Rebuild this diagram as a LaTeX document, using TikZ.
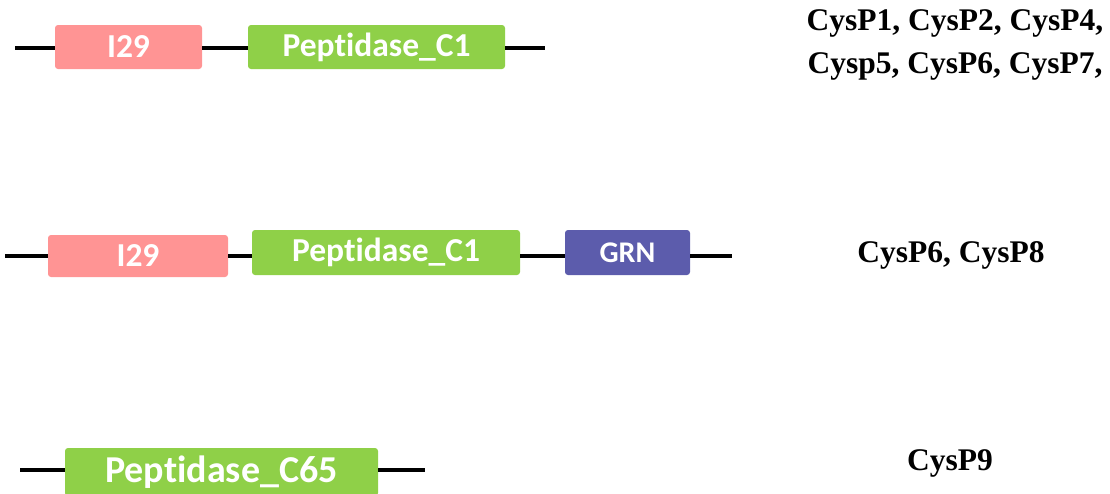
\documentclass[tikz,border=0pt]{standalone}
\usepackage{fontspec}
\setmainfont{Liberation Serif}
\newfontfamily\boxfont[Ligatures=NoCommon]{Carlito}
\definecolor{pinkdom}{RGB}{255,148,148}
\definecolor{greendom}{RGB}{143,208,72}
\definecolor{purpledom}{RGB}{92,92,172}
\tikzset{
  dom/.style={rounded corners=3pt, inner sep=0pt, text=white,
    font=\boxfont\bfseries\fontsize{33.5}{33.5}\selectfont},
  bb/.style={line width=3.5pt, black},
  lab/.style={font=\bfseries\fontsize{31.5}{43}\selectfont, align=center, inner sep=0pt}
}
\begin{document}
\begin{tikzpicture}[x=1pt,y=-1pt]
\useasboundingbox (0,0) rectangle (1110,493);
% Row 1
\coordinate (l1) at (15,48);
\coordinate (r1) at (545,48);
\node[dom, fill=pinkdom, minimum width=147pt, minimum height=44pt] (i1) at (128.5,47) {I29};
\node[dom, fill=greendom, minimum width=257pt, minimum height=44pt] (p1) at (376.5,47) {Peptidase\_C1};
\draw[bb] (l1) -- (l1 -| i1.west);
\draw[bb] (i1.east |- l1) -- (l1 -| p1.west);
\draw[bb] (p1.east |- l1) -- (r1);
\node[lab] (t1) at (955,45) {CysP1, CysP2, CysP4,\\Cysp5, CysP6, CysP7,};
% Row 2
\coordinate (l2) at (5,256);
\coordinate (r2) at (732,256);
\node[dom, fill=pinkdom, minimum width=180pt, minimum height=42pt] (i2) at (138,256) {I29};
\node[dom, fill=greendom, minimum width=268pt, minimum height=45pt] (p2) at (386,252.5) {Peptidase\_C1};
\node[dom, fill=purpledom, minimum width=125pt, minimum height=45pt, font=\boxfont\bfseries\fontsize{30}{30}\selectfont] (g2) at (627.5,252.5) {GRN};
\draw[bb] (l2) -- (l2 -| i2.west);
\draw[bb] (i2.east |- l2) -- (l2 -| p2.west);
\draw[bb] (p2.east |- l2) -- (l2 -| g2.west);
\draw[bb] (g2.east |- l2) -- (r2);
\node[lab] (t2) at (951,255) {CysP6, CysP8};
% Row 3
\coordinate (l3) at (20,470);
\coordinate (r3) at (425,470);
\node[dom, fill=greendom, minimum width=313pt, minimum height=48pt, font=\boxfont\bfseries\fontsize{38}{38}\selectfont] (p3) at (221.5,472) {Peptidase\_C65};
\draw[bb] (l3) -- (l3 -| p3.west);
\draw[bb] (p3.east |- l3) -- (r3);
\node[lab] (t3) at (950,463) {CysP9};
\end{tikzpicture}
\end{document}
